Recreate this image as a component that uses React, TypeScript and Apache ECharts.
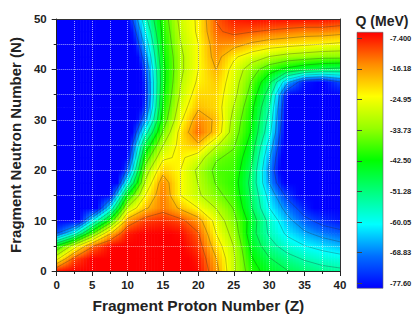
import React, { useEffect, useRef } from "react";
import * as echarts from "echarts";

// Fragment proton number Z (columns) and neutron number N (rows)
const zValues = [0, 2.5, 5, 7.5, 10, 12.5, 15, 17.5, 20, 22.5, 25, 27.5, 30, 32.5, 35, 37.5, 40];
const nValues = [0, 2.5, 5, 7.5, 10, 12.5, 15, 17.5, 20, 22.5, 25, 27.5, 30, 32.5, 35, 37.5, 40, 42.5, 45, 47.5, 50];

// Q value (MeV), one row per N value
const qN0 = [-8, -7, -6, -6, -6, -6, -6, -6, -8, -17, -30, -40, -45, -48, -50, -52, -53];
const qN2_5 = [-27, -12, -7, -6, -6, -6, -6, -6, -9, -19, -30, -42, -48, -52, -55, -57, -58];
const qN5 = [-42, -28, -14, -8, -6, -6, -6, -7, -11, -22, -31, -44, -52, -57, -60, -62, -64];
const qN7_5 = [-72, -58, -38, -20, -9, -7, -7, -8, -13, -25, -33, -46, -55, -61, -65, -68, -70];
const qN10 = [-92, -85, -60, -41, -17, -11, -10, -12, -17, -27, -35, -45, -56, -64, -70, -74, -76];
const qN12_5 = [-95, -95, -85, -60, -30, -20, -15, -20, -25, -31, -37, -48, -60, -68, -75, -80, -82];
const qN15 = [-95, -95, -95, -78, -42, -25, -15, -25, -30, -35, -39, -49, -62, -73, -80, -86, -88];
const qN17_5 = [-95, -95, -95, -92, -58, -30, -16, -25, -31, -37, -40, -50, -66, -80, -88, -93, -95];
const qN20 = [-95, -95, -95, -95, -70, -34, -21, -25, -32, -38, -39, -49, -67, -84, -95, -95, -95];
const qN22_5 = [-95, -95, -95, -95, -77, -40, -26, -24, -28, -36, -38, -47, -65, -83, -95, -95, -95];
const qN25 = [-95, -95, -95, -95, -81, -47, -31, -23, -20, -30, -36, -45, -62, -81, -93, -95, -95];
const qN27_5 = [-95, -95, -95, -95, -86, -57, -36, -23, -14, -21, -34, -43, -58, -80, -92, -95, -95];
const qN30 = [-95, -95, -95, -95, -90, -67, -40, -26, -16, -20, -33, -42, -56, -79, -92, -95, -95];
const qN32_5 = [-95, -95, -95, -95, -92, -73, -42, -28, -20, -22, -31, -41, -54, -78, -90, -95, -95];
const qN35 = [-95, -95, -95, -95, -93, -75, -43, -30, -22, -22, -29, -39, -51, -76, -88, -93, -88];
const qN37_5 = [-95, -95, -95, -95, -93, -74, -44, -31, -24, -21, -28, -37, -47, -64, -76, -78, -72];
const qN40 = [-95, -95, -95, -95, -93, -72, -44, -32, -25, -19, -27, -34, -40, -44, -47, -49, -50];
const qN42_5 = [-95, -95, -95, -95, -90, -68, -43, -32, -25, -17, -24, -28, -31, -33, -34, -35, -35];
const qN45 = [-95, -95, -95, -95, -86, -64, -42, -31, -25, -16, -17, -20, -22, -23, -24, -25, -26];
const qN47_5 = [-95, -95, -95, -95, -82, -60, -41, -30, -24, -14, -12, -13, -14, -15, -16, -16, -17];
const qN50 = [-95, -95, -95, -95, -78, -56, -40, -29, -24, -13, -9, -8, -8, -8, -8, -8, -9];

const qGrid = [qN0, qN2_5, qN5, qN7_5, qN10, qN12_5, qN15, qN17_5, qN20, qN22_5, qN25, qN27_5,
  qN30, qN32_5, qN35, qN37_5, qN40, qN42_5, qN45, qN47_5, qN50];

// colour bar tick labels, top to bottom
const colorTickLabels = ["-7.400", "-16.18", "-24.95", "-33.73", "-42.50", "-51.28", "-60.05", "-68.83", "-77.60"];
const qMin = -77.6;
const qMax = -7.4;
const contourLevels = [-13.25, -19.1, -24.95, -30.8, -36.65, -42.5, -48.35, -54.2, -60.05, -65.9, -71.75];

const colorMap: [number, number[]][] = [
  [-77.6, [0, 0, 255]],
  [-68.83, [0, 110, 255]],
  [-60.05, [0, 255, 255]],
  [-51.28, [0, 255, 128]],
  [-42.5, [0, 255, 0]],
  [-33.73, [150, 255, 0]],
  [-24.95, [255, 255, 0]],
  [-16.18, [255, 140, 0]],
  [-7.4, [255, 0, 0]],
];

function clampQ(v: number) {
  return Math.max(qMin, Math.min(qMax, v));
}
function colorOf(v: number) {
  v = clampQ(v);
  for (let k = 0; k < colorMap.length - 1; k++) {
    const [a, ca] = colorMap[k];
    const [b, cb] = colorMap[k + 1];
    if (v >= a && v <= b) {
      const t = (v - a) / (b - a);
      const c = ca.map((x, m) => Math.round(x + (cb[m] - x) * t));
      return `rgb(${c[0]},${c[1]},${c[2]})`;
    }
  }
  return "rgb(255,0,0)";
}
function gradientStops(vTop: number, vBot: number) {
  const a = clampQ(vTop);
  const b = clampQ(vBot);
  const stops: { offset: number; color: string }[] = [{ offset: 0, color: colorOf(a) }];
  if (Math.abs(a - b) > 1e-6) {
    const inner: { offset: number; color: string }[] = [];
    for (const [L] of colorMap) {
      if ((L - a) * (L - b) < 0) {
        inner.push({ offset: (a - L) / (a - b), color: colorOf(L) });
      }
    }
    inner.sort((p, q) => p.offset - q.offset);
    stops.push(...inner);
  }
  stops.push({ offset: 1, color: colorOf(b) });
  return stops;
}

const cellData: number[][] = [];
for (let j = 0; j < nValues.length; j++) {
  for (let i = 0; i < zValues.length; i++) {
    cellData.push([zValues[i], nValues[j], qGrid[j][i], i, j]);
  }
}

const STRIPS = 6;

function renderCell(params: any, api: any) {
  const i = api.value(3);
  const j = api.value(4);
  if (i >= zValues.length - 1 || j >= nValues.length - 1) return { type: "group", children: [] };
  const p0 = api.coord([zValues[i], nValues[j]]);
  const p1 = api.coord([zValues[i + 1], nValues[j + 1]]);
  const x0 = p0[0], x1 = p1[0], yb = p0[1], yt = p1[1];
  const qBL = qGrid[j][i], qBR = qGrid[j][i + 1], qTL = qGrid[j + 1][i], qTR = qGrid[j + 1][i + 1];
  const children: any[] = [];
  const w = (x1 - x0) / STRIPS;
  for (let k = 0; k < STRIPS; k++) {
    const t = (k + 0.5) / STRIPS;
    const vTop = qTL + (qTR - qTL) * t;
    const vBot = qBL + (qBR - qBL) * t;
    children.push({
      type: "rect",
      shape: { x: x0 + k * w, y: yt, width: w + 0.6, height: yb - yt + 0.6 },
      style: { fill: new echarts.graphic.LinearGradient(0, 0, 0, 1, gradientStops(vTop, vBot)) },
      z2: 1,
    });
  }
  // contour lines (marching squares)
  const corners = {
    TL: [x0, yt, qTL], TR: [x1, yt, qTR], BR: [x1, yb, qBR], BL: [x0, yb, qBL],
  } as any;
  const edges = [["TL", "TR"], ["TR", "BR"], ["BL", "BR"], ["TL", "BL"]];
  for (const L of contourLevels) {
    const pts: (number[] | null)[] = edges.map(([a, b]) => {
      const A = corners[a], B = corners[b];
      if ((A[2] >= L) !== (B[2] >= L)) {
        const t = (L - A[2]) / (B[2] - A[2]);
        return [A[0] + (B[0] - A[0]) * t, A[1] + (B[1] - A[1]) * t];
      }
      return null;
    });
    const segs: number[][][] = [];
    const found = pts.filter((p) => p) as number[][];
    if (found.length === 2) segs.push([found[0], found[1]]);
    else if (found.length === 4) {
      const center = (qTL + qTR + qBR + qBL) / 4;
      if ((center >= L) === (qTL >= L)) {
        segs.push([pts[0]!, pts[1]!], [pts[2]!, pts[3]!]);
      } else {
        segs.push([pts[0]!, pts[3]!], [pts[2]!, pts[1]!]);
      }
    }
    for (const s of segs) {
      children.push({
        type: "line",
        shape: { x1: s[0][0], y1: s[0][1], x2: s[1][0], y2: s[1][1] },
        style: { stroke: "rgba(40,40,40,0.5)", lineWidth: 0.6 },
        z2: 10,
      });
    }
  }
  return { type: "group", children };
}

function renderColorBar(params: any, api: any) {
  const top = api.coord([0, 8]);
  const bot = api.coord([1, 0]);
  const stops = colorMap
    .slice()
    .reverse()
    .map(([v, c]) => ({ offset: (qMax - v) / (qMax - qMin), color: `rgb(${c[0]},${c[1]},${c[2]})` }));
  return {
    type: "rect",
    shape: { x: top[0], y: top[1] - 6, width: bot[0] - top[0], height: bot[1] - top[1] + 11 },
    style: {
      fill: new echarts.graphic.LinearGradient(0, 0, 0, 1, stops),
      stroke: "#666",
      lineWidth: 0.6,
    },
  };
}

const FONT = "'Liberation Sans', Arial, sans-serif";

export default function App() {
  const ref = useRef<HTMLDivElement>(null);
  useEffect(() => {
    if (!ref.current) return;
    const chart = echarts.init(ref.current, undefined, { renderer: "svg" });
    const gridLine = { show: true, lineStyle: { color: "rgba(255,255,255,0.6)", type: "dotted", width: 1 } };
    chart.setOption({
      animation: false,
      backgroundColor: "#ffffff",
      textStyle: { fontFamily: FONT },
      grid: [
        { left: 52, right: 80, top: 19, bottom: 42, show: false },
        { left: 357, width: 26, top: 38.3, height: 245, show: false },
      ],
      xAxis: [
        {
          type: "value", gridIndex: 0, min: 0, max: 40, interval: 5, position: "bottom", z: 10,
          axisLine: { show: true, onZero: false, lineStyle: { color: "#222", width: 1 } },
          axisTick: { show: true, length: 5, lineStyle: { color: "#222" } },
          minorTick: { show: true, splitNumber: 2, length: 3, lineStyle: { color: "#222" } },
          splitLine: gridLine,
          minorSplitLine: gridLine,
          axisLabel: { fontSize: 11.5, fontWeight: "bold", color: "#222", margin: 8, fontFamily: FONT },
          name: "Fragment Proton Number (Z)", nameLocation: "middle", nameGap: 26,
          nameTextStyle: { fontSize: 15.5, fontWeight: "bold", color: "#222", fontFamily: FONT },
        },
        {
          type: "value", gridIndex: 0, min: 0, max: 40, position: "top", z: 10,
          axisLine: { show: true, onZero: false, lineStyle: { color: "#333", width: 1 } },
          axisTick: { show: false }, axisLabel: { show: false }, splitLine: { show: false },
        },
        { type: "value", gridIndex: 1, min: 0, max: 1, show: false },
      ],
      yAxis: [
        {
          type: "value", gridIndex: 0, min: 0, max: 50, interval: 10, position: "left", z: 10,
          axisLine: { show: true, onZero: false, lineStyle: { color: "#222", width: 1 } },
          axisTick: { show: true, length: 5, lineStyle: { color: "#222" } },
          minorTick: { show: true, splitNumber: 2, length: 3, lineStyle: { color: "#222" } },
          splitLine: gridLine,
          minorSplitLine: gridLine,
          axisLabel: { fontSize: 11.5, fontWeight: "bold", color: "#222", margin: 10, fontFamily: FONT },
          name: "Fragment Neutron Number (N)", nameLocation: "middle", nameGap: 29,
          nameTextStyle: { fontSize: 15, fontWeight: "bold", color: "#222", fontFamily: FONT },
        },
        {
          type: "value", gridIndex: 0, min: 0, max: 50, position: "right", z: 10,
          axisLine: { show: true, onZero: false, lineStyle: { color: "#333", width: 1 } },
          axisTick: { show: false }, axisLabel: { show: false }, splitLine: { show: false },
        },
        {
          type: "value", gridIndex: 1, min: 0, max: 8, interval: 1, position: "right", z: 10,
          axisLine: { show: false },
          axisTick: { show: true, length: 5, lineStyle: { color: "#444" } },
          splitLine: { show: false },
          axisLabel: {
            fontSize: 7.5, fontWeight: "bold", color: "#222", margin: 7, fontFamily: FONT,
            formatter: (v: number) => colorTickLabels[8 - Math.round(v)],
          },
        },
      ],
      graphic: [
        {
          type: "text", x: 382, y: 21, z: 20,
          style: {
            text: "Q (MeV)", fontSize: 14, fontWeight: "bold", fill: "#222", fontFamily: FONT,
            textAlign: "center", textVerticalAlign: "middle",
          },
        },
      ],
      series: [
        {
          type: "custom", coordinateSystem: "cartesian2d", xAxisIndex: 0, yAxisIndex: 0,
          renderItem: renderCell, data: cellData, encode: { x: 0, y: 1 }, clip: true, silent: true, z: 2,
        },
        {
          type: "custom", coordinateSystem: "cartesian2d", xAxisIndex: 2, yAxisIndex: 2,
          renderItem: renderColorBar, data: [[0, 0]], encode: { x: 0, y: 1 }, silent: true, z: 2,
        },
      ],
    });
    return () => chart.dispose();
  }, []);
  return <div ref={ref} style={{ position: "absolute", left: 0, top: 0, width: 420, height: 318 }} />;
}
